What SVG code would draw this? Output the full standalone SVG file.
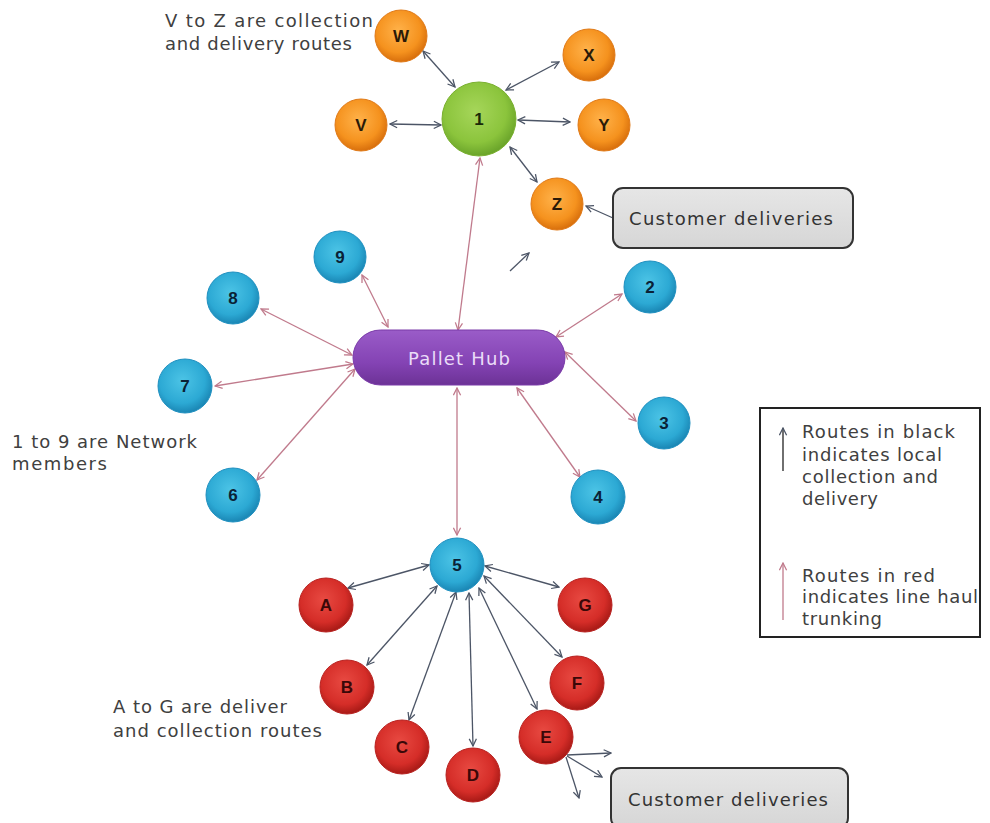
<svg xmlns="http://www.w3.org/2000/svg" width="990" height="823" viewBox="0 0 990 823">
<defs>
<radialGradient id="gOrange" cx="45%" cy="40%" r="60%"><stop offset="0" stop-color="#ffb24a"/><stop offset="0.7" stop-color="#f5921e"/><stop offset="1" stop-color="#d86f0c"/></radialGradient>
<radialGradient id="gGreen" cx="45%" cy="40%" r="60%"><stop offset="0" stop-color="#a6d65a"/><stop offset="0.7" stop-color="#8bc43c"/><stop offset="1" stop-color="#6aa42a"/></radialGradient>
<radialGradient id="gBlue" cx="45%" cy="40%" r="60%"><stop offset="0" stop-color="#4cc4e6"/><stop offset="0.7" stop-color="#2ca9d4"/><stop offset="1" stop-color="#1a86b4"/></radialGradient>
<radialGradient id="gRed" cx="45%" cy="40%" r="60%"><stop offset="0" stop-color="#e84a42"/><stop offset="0.7" stop-color="#d52d28"/><stop offset="1" stop-color="#a81a16"/></radialGradient>
<linearGradient id="gPurple" x1="0" y1="0" x2="0" y2="1"><stop offset="0" stop-color="#9a5cc8"/><stop offset="0.6" stop-color="#8443b4"/><stop offset="1" stop-color="#6c3296"/></linearGradient>
<linearGradient id="gBox" x1="0" y1="0" x2="0" y2="1"><stop offset="0" stop-color="#e6e6e6"/><stop offset="1" stop-color="#d6d6d6"/></linearGradient>
<marker id="mk" viewBox="0 0 10 10" refX="9" refY="5" markerWidth="9" markerHeight="9" markerUnits="userSpaceOnUse" orient="auto-start-reverse"><path d="M1,1 L9,5 L1,9" fill="none" stroke="#4c5566" stroke-width="1.4"/></marker>
<marker id="mr" viewBox="0 0 10 10" refX="9" refY="5" markerWidth="9" markerHeight="9" markerUnits="userSpaceOnUse" orient="auto-start-reverse"><path d="M1,1 L9,5 L1,9" fill="none" stroke="#c07a8c" stroke-width="1.4"/></marker>
</defs>
<style>
.lbl{font-family:"DejaVu Sans","Liberation Sans",Arial,sans-serif;font-size:18px;fill:#404040}
.nl{font-family:"Liberation Sans",Arial,sans-serif;font-size:17px;font-weight:bold;text-anchor:middle;dominant-baseline:central}
.o circle{fill:url(#gOrange);stroke:#e07a18;stroke-width:1}
.o text{fill:#2a1a08}
.g circle{fill:url(#gGreen);stroke:#7ab030;stroke-width:1}
.g text{fill:#1a2a08}
.b circle{fill:url(#gBlue);stroke:#2090c0;stroke-width:1}
.b text{fill:#0a2236}
.r circle{fill:url(#gRed);stroke:#b82220;stroke-width:1}
.r text{fill:#3a0808}
.k{stroke:#4c5566;stroke-width:1.3;fill:none;marker-end:url(#mk)}
.kk{stroke:#4c5566;stroke-width:1.3;fill:none;marker-end:url(#mk);marker-start:url(#mk)}
.rr{stroke:#c07a8c;stroke-width:1.3;fill:none;marker-end:url(#mr);marker-start:url(#mr)}
.box rect{fill:url(#gBox);stroke:#333;stroke-width:2}
.box text{font-family:"DejaVu Sans","Liberation Sans",Arial,sans-serif;font-size:18px;fill:#333;text-anchor:middle;dominant-baseline:central}
</style>
<rect width="990" height="823" fill="#fff"/>

<g id="connectors">
<line class="kk" x1="423" y1="51" x2="455" y2="87"/>
<line class="kk" x1="559" y1="62" x2="506" y2="90"/>
<line class="kk" x1="390" y1="124" x2="441" y2="125"/>
<line class="kk" x1="518" y1="120" x2="570" y2="122"/>
<line class="kk" x1="510" y1="147" x2="537" y2="182"/>
<line class="k" x1="613" y1="218" x2="586" y2="206"/>
<line class="k" x1="510" y1="271" x2="529" y2="253"/>
<line class="rr" x1="480" y1="158" x2="458" y2="330"/>
<line class="rr" x1="362" y1="275" x2="388" y2="327"/>
<line class="rr" x1="261" y1="309" x2="352" y2="355"/>
<line class="rr" x1="215" y1="386" x2="353" y2="364"/>
<line class="rr" x1="257" y1="480" x2="355" y2="369"/>
<line class="rr" x1="622" y1="294" x2="556" y2="337"/>
<line class="rr" x1="565" y1="352" x2="636" y2="421"/>
<line class="rr" x1="517" y1="388" x2="580" y2="477"/>
<line class="rr" x1="457" y1="388" x2="457" y2="535"/>
<line class="kk" x1="348" y1="588" x2="429" y2="565"/>
<line class="kk" x1="485" y1="566" x2="559" y2="587"/>
<line class="kk" x1="367" y1="665" x2="437" y2="586"/>
<line class="kk" x1="409" y1="720" x2="456" y2="592"/>
<line class="kk" x1="473" y1="746" x2="469" y2="593"/>
<line class="kk" x1="537" y1="709" x2="479" y2="588"/>
<line class="kk" x1="562" y1="657" x2="484" y2="576"/>
<line class="k" x1="567" y1="755" x2="611" y2="753"/>
<line class="k" x1="567" y1="756" x2="602" y2="777"/>
<line class="k" x1="566" y1="757" x2="579" y2="798"/>
</g>

<g id="node-1" class="g"><circle cx="479" cy="119" r="37"/><text class="nl" x="479" y="119">1</text></g>
<g id="node-W" class="o"><circle cx="401" cy="36" r="26"/><text class="nl" x="401" y="36">W</text></g>
<g id="node-X" class="o"><circle cx="589" cy="55" r="26"/><text class="nl" x="589" y="55">X</text></g>
<g id="node-V" class="o"><circle cx="361" cy="125" r="26"/><text class="nl" x="361" y="125">V</text></g>
<g id="node-Y" class="o"><circle cx="604" cy="125" r="26"/><text class="nl" x="604" y="125">Y</text></g>
<g id="node-Z" class="o"><circle cx="557" cy="204" r="26"/><text class="nl" x="557" y="204">Z</text></g>

<g id="box-top" class="box"><rect x="613" y="188" width="240" height="60" rx="10"/><text x="731" y="218" textLength="204" lengthAdjust="spacing">Customer deliveries</text></g>

<g id="hub"><rect x="353" y="330" width="212" height="55" rx="27.5" fill="url(#gPurple)" stroke="#7a3aa8" stroke-width="1"/><text x="459" y="358" font-family="DejaVu Sans, Liberation Sans, Arial, sans-serif" font-size="18" fill="#eadcf8" text-anchor="middle" dominant-baseline="central" textLength="102" lengthAdjust="spacing">Pallet Hub</text></g>

<g id="node-9" class="b"><circle cx="340" cy="257" r="26"/><text class="nl" x="340" y="257">9</text></g>
<g id="node-8" class="b"><circle cx="233" cy="298" r="26"/><text class="nl" x="233" y="298">8</text></g>
<g id="node-7" class="b"><circle cx="185" cy="386" r="27"/><text class="nl" x="185" y="386">7</text></g>
<g id="node-6" class="b"><circle cx="233" cy="495" r="27"/><text class="nl" x="233" y="495">6</text></g>
<g id="node-2" class="b"><circle cx="650" cy="287" r="26"/><text class="nl" x="650" y="287">2</text></g>
<g id="node-3" class="b"><circle cx="664" cy="423" r="26"/><text class="nl" x="664" y="423">3</text></g>
<g id="node-4" class="b"><circle cx="598" cy="497" r="27"/><text class="nl" x="598" y="497">4</text></g>
<g id="node-5" class="b"><circle cx="457" cy="565" r="27"/><text class="nl" x="457" y="565">5</text></g>

<g id="node-A" class="r"><circle cx="326" cy="605" r="27"/><text class="nl" x="326" y="605">A</text></g>
<g id="node-B" class="r"><circle cx="347" cy="687" r="27"/><text class="nl" x="347" y="687">B</text></g>
<g id="node-C" class="r"><circle cx="402" cy="747" r="27"/><text class="nl" x="402" y="747">C</text></g>
<g id="node-D" class="r"><circle cx="473" cy="775" r="27"/><text class="nl" x="473" y="775">D</text></g>
<g id="node-E" class="r"><circle cx="546" cy="737" r="27"/><text class="nl" x="546" y="737">E</text></g>
<g id="node-F" class="r"><circle cx="577" cy="683" r="27"/><text class="nl" x="577" y="683">F</text></g>
<g id="node-G" class="r"><circle cx="585" cy="605" r="27"/><text class="nl" x="585" y="605">G</text></g>

<g id="box-bottom" class="box"><rect x="611" y="768" width="237" height="60" rx="10"/><text x="728" y="799" textLength="200" lengthAdjust="spacing">Customer deliveries</text></g>

<g id="notes">
<text class="lbl" x="165" y="27" textLength="208" lengthAdjust="spacing">V  to Z are collection</text>
<text class="lbl" x="165" y="50" textLength="187" lengthAdjust="spacing">and delivery routes</text>
<text class="lbl" x="12" y="448" textLength="185" lengthAdjust="spacing">1 to 9 are Network</text>
<text class="lbl" x="12" y="470" textLength="95" lengthAdjust="spacing">members</text>
<text class="lbl" x="113" y="713" textLength="174" lengthAdjust="spacing">A to G are deliver</text>
<text class="lbl" x="113" y="737" textLength="209" lengthAdjust="spacing">and collection routes</text>
</g>

<g id="legend">
<rect x="760" y="408" width="220" height="229" fill="#fff" stroke="#222" stroke-width="2"/>
<line x1="783" y1="471" x2="783" y2="428" stroke="#222" stroke-width="1.3" marker-end="url(#mk)"/>
<line x1="783" y1="620" x2="783" y2="563" stroke="#c07a8c" stroke-width="1.3" marker-end="url(#mr)"/>
<text class="lbl" x="802" y="438" textLength="153" lengthAdjust="spacing">Routes in black</text>
<text class="lbl" x="802" y="461" textLength="140" lengthAdjust="spacing">indicates local</text>
<text class="lbl" x="802" y="483" textLength="136" lengthAdjust="spacing">collection and</text>
<text class="lbl" x="802" y="505" textLength="76" lengthAdjust="spacing">delivery</text>
<text class="lbl" x="802" y="582" textLength="133" lengthAdjust="spacing">Routes in red</text>
<text class="lbl" x="802" y="603" textLength="176" lengthAdjust="spacing">indicates line haul</text>
<text class="lbl" x="802" y="625" textLength="80" lengthAdjust="spacing">trunking</text>
</g>
</svg>
